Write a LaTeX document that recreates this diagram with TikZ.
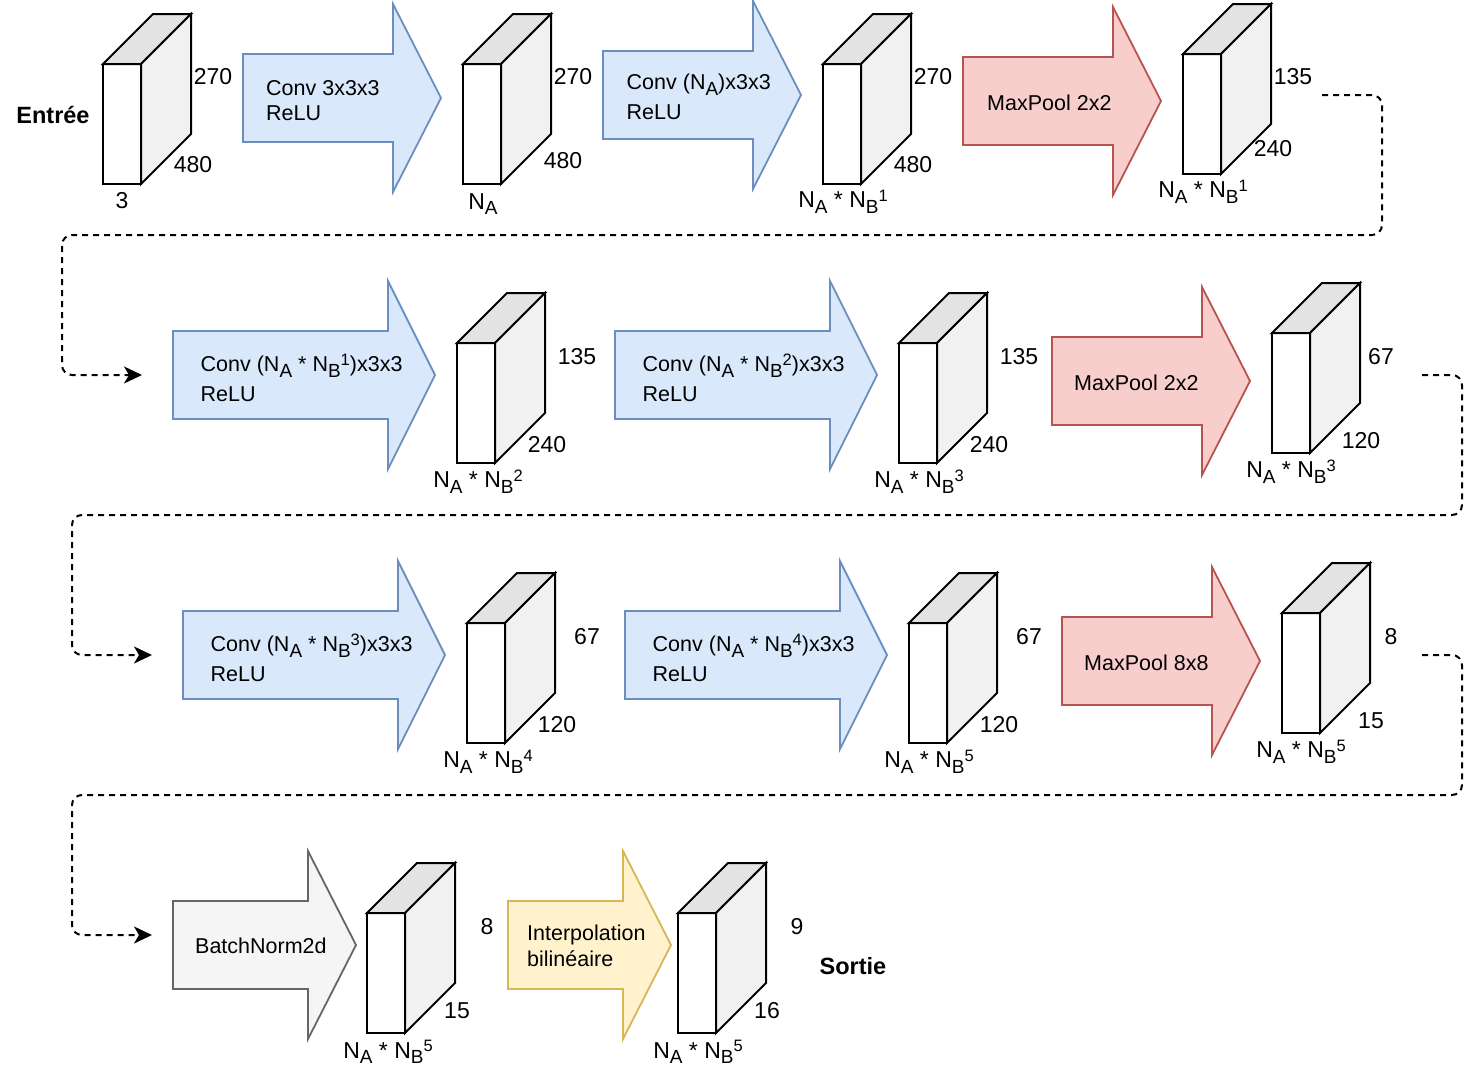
\documentclass[tikz,border=0pt]{standalone}
\usepackage{fontspec}
\setmainfont{Liberation Sans}
\usetikzlibrary{arrows.meta}
\definecolor{blueF}{HTML}{DAE8FC}
\definecolor{blueD}{HTML}{6C8EBF}
\definecolor{redF}{HTML}{F8CECC}
\definecolor{redD}{HTML}{B85450}
\definecolor{grayF}{HTML}{F5F5F5}
\definecolor{grayD}{HTML}{666666}
\definecolor{yelF}{HTML}{FFF2CC}
\definecolor{yelD}{HTML}{D6B656}
\definecolor{topG}{HTML}{E3E3E3}
\definecolor{sideG}{HTML}{F1F1F1}
\newcommand\sbx[1]{\raisebox{-5.5pt}{\fontsize{19}{19}\selectfont #1}}
\newcommand\spx[1]{\raisebox{6.5pt}{\fontsize{16.5}{17}\selectfont #1}}
\newcommand\NAB[1]{N\sbx{A} * N\sbx{B}\spx{#1}}
\newcommand\fatarrow[5]{\draw[#1] (#2,#5-44) -- (#3,#5-44) -- (#3,#5-94) -- (#4,#5) -- (#3,#5+94) -- (#3,#5+44) -- (#2,#5+44) -- cycle;}
\begin{document}
\begin{tikzpicture}[x=1pt,y=-1pt,
  cubeln/.style={draw=black,line width=2pt,line join=miter},
  cubeblock/.pic={
    \draw[cubeln,fill=white] (0,0) rectangle (38,120);
    \draw[cubeln,fill=topG] (0,0) -- (50,-50) -- (88,-50) -- (38,0) -- cycle;
    \draw[cubeln,fill=sideG] (38,0) -- (88,-50) -- (88,70) -- (38,120) -- cycle;
  },
  bluear/.style={fill=blueF,draw=blueD,line width=1.8pt},
  redar/.style={fill=redF,draw=redD,line width=1.8pt},
  grayar/.style={fill=grayF,draw=grayD,line width=1.8pt},
  yelar/.style={fill=yelF,draw=yelD,line width=1.8pt},
  atext/.style={font=\fontsize{21.5}{25}\selectfont,inner sep=0pt,anchor=base west},
  dim/.style={font=\fontsize{23}{27}\selectfont,inner sep=0pt},
  nlab/.style={font=\fontsize{23}{27}\selectfont,inner sep=0pt,anchor=base},
  ttl/.style={font=\fontsize{23.5}{27}\selectfont\bfseries,inner sep=0pt},
  flow/.style={line width=2pt,dash pattern=on 6pt off 5pt,rounded corners=10pt,-{Stealth[length=18pt,width=17pt,inset=5pt]}}
]
\useasboundingbox (0,0) rectangle (1478,1082);

% ---------- row 1
\node[ttl] (entree) at (53,115) {Entrée};
\pic at (103,64) {cubeblock};
\node[dim] (d1a) at (213,77) {270};
\node[dim] (d1b) at (193,165) {480};
\node[nlab] (n1) at (122,208) {3};

\fatarrow{bluear}{243}{393}{441}{98}
\node[atext] (t1a) at (266,95.5) {Conv 3x3x3};
\node[atext] (t1b) at (266,120.5) {ReLU};

\pic at (463,64) {cubeblock};
\node[dim] (d2a) at (573,77) {270};
\node[dim] (d2b) at (563,161) {480};
\node[nlab] (n2) at (483,209) {N\sbx{A}};

\fatarrow{bluear}{603}{753}{801}{95}
\node[atext] (t2a) at (626.5,89.5) {Conv (N\sbx{A})x3x3};
\node[atext] (t2b) at (626.5,119.5) {ReLU};

\pic at (823,64) {cubeblock};
\node[dim] (d3a) at (933,77) {270};
\node[dim] (d3b) at (913,165) {480};
\node[nlab] (n3) at (843,207.5) {\NAB{1}};

\fatarrow{redar}{963}{1113}{1161}{101}
\node[atext] (t3) at (987,110) {MaxPool 2x2};

\pic at (1183,54) {cubeblock};
\node[dim] (d4a) at (1293,77) {135};
\node[dim] (d4b) at (1273,149) {240};
\node[nlab] (n4) at (1203,197.5) {\NAB{1}};

% ---------- row 2
\fatarrow{bluear}{173}{388}{435}{375}
\node[atext] (t4a) at (200.5,371.5) {Conv (N\sbx{A} * N\sbx{B}\spx{1})x3x3};
\node[atext] (t4b) at (200.5,401.5) {ReLU};

\pic at (457,343) {cubeblock};
\node[dim] (d5a) at (577,357) {135};
\node[dim] (d5b) at (547,445) {240};
\node[nlab] (n5) at (478,487.5) {\NAB{2}};

\fatarrow{bluear}{615}{830}{877}{375}
\node[atext] (t5a) at (642.5,371.5) {Conv (N\sbx{A} * N\sbx{B}\spx{2})x3x3};
\node[atext] (t5b) at (642.5,401.5) {ReLU};

\pic at (899,343) {cubeblock};
\node[dim] (d6a) at (1019,357) {135};
\node[dim] (d6b) at (989,445) {240};
\node[nlab] (n6) at (919,487.5) {\NAB{3}};

\fatarrow{redar}{1052}{1202}{1250}{381}
\node[atext] (t6) at (1074,390) {MaxPool 2x2};

\pic at (1272,333) {cubeblock};
\node[dim] (d7a) at (1381,357) {67};
\node[dim] (d7b) at (1361,441) {120};
\node[nlab] (n7) at (1291,477.5) {\NAB{3}};

% ---------- row 3
\fatarrow{bluear}{183}{398}{445}{655}
\node[atext] (t7a) at (210.5,651.5) {Conv (N\sbx{A} * N\sbx{B}\spx{3})x3x3};
\node[atext] (t7b) at (210.5,681.5) {ReLU};

\pic at (467,623) {cubeblock};
\node[dim] (d8a) at (587,637) {67};
\node[dim] (d8b) at (557,725) {120};
\node[nlab] (n8) at (488,767.5) {\NAB{4}};

\fatarrow{bluear}{625}{840}{887}{655}
\node[atext] (t8a) at (652.5,651.5) {Conv (N\sbx{A} * N\sbx{B}\spx{4})x3x3};
\node[atext] (t8b) at (652.5,681.5) {ReLU};

\pic at (909,623) {cubeblock};
\node[dim] (d9a) at (1029,637) {67};
\node[dim] (d9b) at (999,725) {120};
\node[nlab] (n9) at (929,767.5) {\NAB{5}};

\fatarrow{redar}{1062}{1212}{1260}{661}
\node[atext] (t9) at (1084,670) {MaxPool 8x8};

\pic at (1282,613) {cubeblock};
\node[dim] (d10a) at (1391,637) {8};
\node[dim] (d10b) at (1371,721) {15};
\node[nlab] (n10) at (1301,757.5) {\NAB{5}};

% ---------- row 4
\fatarrow{grayar}{173}{308}{356}{945}
\node[atext] (t10) at (195,953.5) {BatchNorm2d};

\pic at (367,913) {cubeblock};
\node[dim] (d11a) at (487,927) {8};
\node[dim] (d11b) at (457,1011) {15};
\node[nlab] (n11) at (388,1058) {\NAB{5}};

\fatarrow{yelar}{508}{623}{671}{945}
\node[atext] (t11a) at (527,940.5) {Interpolation};
\node[atext] (t11b) at (527,966) {bilinéaire};

\pic at (678,913) {cubeblock};
\node[dim] (d12a) at (797,927) {9};
\node[dim] (d12b) at (767,1011) {16};
\node[nlab] (n12) at (698,1058) {\NAB{5}};

\node[ttl] (sortie) at (853,966) {Sortie};

% ---------- connectors
\coordinate (s1) at (1322,95);
\coordinate (r1) at (1382,235);
\coordinate (l1) at (62,235);
\coordinate (e1) at (142,375);
\draw[flow] (s1) -| (r1) -- (l1) |- (e1);

\coordinate (s2) at (1422,375);
\coordinate (r2) at (1462,515);
\coordinate (l2) at (72,515);
\coordinate (e2) at (152,655);
\draw[flow] (s2) -| (r2) -- (l2) |- (e2);

\coordinate (s3) at (1422,655);
\coordinate (r3) at (1462,795);
\coordinate (l3) at (72,795);
\coordinate (e3) at (152,935);
\draw[flow] (s3) -| (r3) -- (l3) |- (e3);
\end{tikzpicture}
\end{document}
